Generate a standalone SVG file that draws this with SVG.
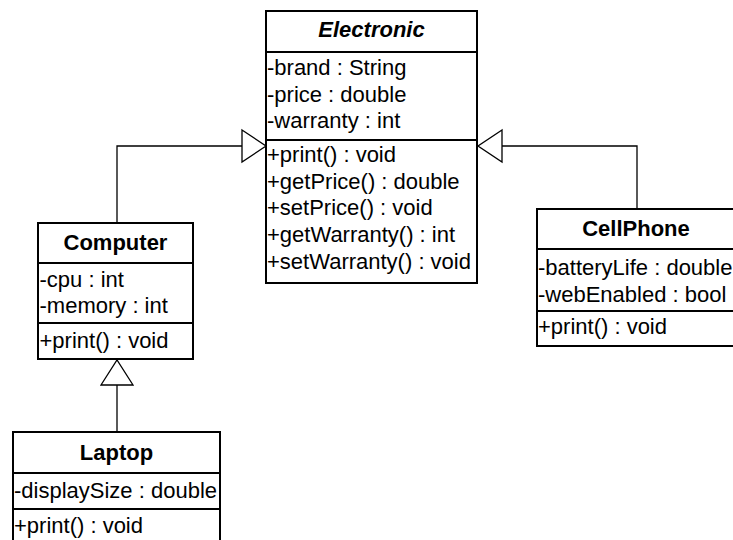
<svg xmlns="http://www.w3.org/2000/svg" width="733" height="540" viewBox="0 0 733 540">
<style>
.box{fill:#fff;stroke:#000;stroke-width:2}
.sep{stroke:#000;stroke-width:2}
.t{font-family:"Liberation Sans",Arial,sans-serif;font-size:22px;fill:#000}
.h{font-family:"Liberation Sans",Arial,sans-serif;font-size:22px;font-weight:bold;fill:#000;text-anchor:middle}
.it{font-style:italic}
.ln{fill:none;stroke:#000;stroke-width:1.3}
.tri{fill:#fff;stroke:#000;stroke-width:1.3;stroke-linejoin:miter}
</style>
<rect width="733" height="540" fill="#fff"/>
<g id="connectors">
<path class="ln" d="M117,223 V146 H242"/>
<polygon class="tri" points="242,130 266,146 242,162"/>
<path class="ln" d="M637,209 V146 H502"/>
<polygon class="tri" points="502,130 478,146 502,162"/>
<path class="ln" d="M117,432 V385"/>
<polygon class="tri" points="101,385 117,360 133,385"/>
</g>
<g id="Electronic">
<rect class="box" x="266" y="11" width="211" height="272"/>
<line class="sep" x1="266" y1="52" x2="477" y2="52"/>
<line class="sep" x1="266" y1="140" x2="477" y2="140"/>
<text class="h it" x="371.5" y="37">Electronic</text>
<text class="t" x="267" y="75">-brand : String</text>
<text class="t" x="267" y="101.7">-price : double</text>
<text class="t" x="267" y="128.4">-warranty : int</text>
<text class="t" x="267" y="162">+print() : void</text>
<text class="t" x="267" y="188.7">+getPrice() : double</text>
<text class="t" x="267" y="215.4">+setPrice() : void</text>
<text class="t" x="267" y="242.1">+getWarranty() : int</text>
<text class="t" x="267" y="268.8">+setWarranty() : void</text>
</g>
<g id="Computer">
<rect class="box" x="38" y="223" width="155" height="136"/>
<line class="sep" x1="38" y1="263" x2="193" y2="263"/>
<line class="sep" x1="38" y1="323" x2="193" y2="323"/>
<text class="h" x="115.5" y="250">Computer</text>
<text class="t" x="39.5" y="286.5">-cpu : int</text>
<text class="t" x="39.5" y="313.2">-memory : int</text>
<text class="t" x="39.5" y="347.5">+print() : void</text>
</g>
<g id="CellPhone">
<rect class="box" x="537" y="209" width="200" height="137"/>
<line class="sep" x1="537" y1="249" x2="737" y2="249"/>
<line class="sep" x1="537" y1="311" x2="737" y2="311"/>
<text class="h" x="636" y="236">CellPhone</text>
<text class="t" x="538" y="275">-batteryLife : double</text>
<text class="t" x="538" y="301.7">-webEnabled : bool</text>
<text class="t" x="538" y="333.5">+print() : void</text>
</g>
<g id="Laptop">
<rect class="box" x="13" y="432" width="207" height="130"/>
<line class="sep" x1="13" y1="473" x2="220" y2="473"/>
<line class="sep" x1="13" y1="509" x2="220" y2="509"/>
<text class="h" x="116.5" y="460">Laptop</text>
<text class="t" x="14" y="497.5">-displaySize : double</text>
<text class="t" x="14" y="532.5">+print() : void</text>
</g>
</svg>
